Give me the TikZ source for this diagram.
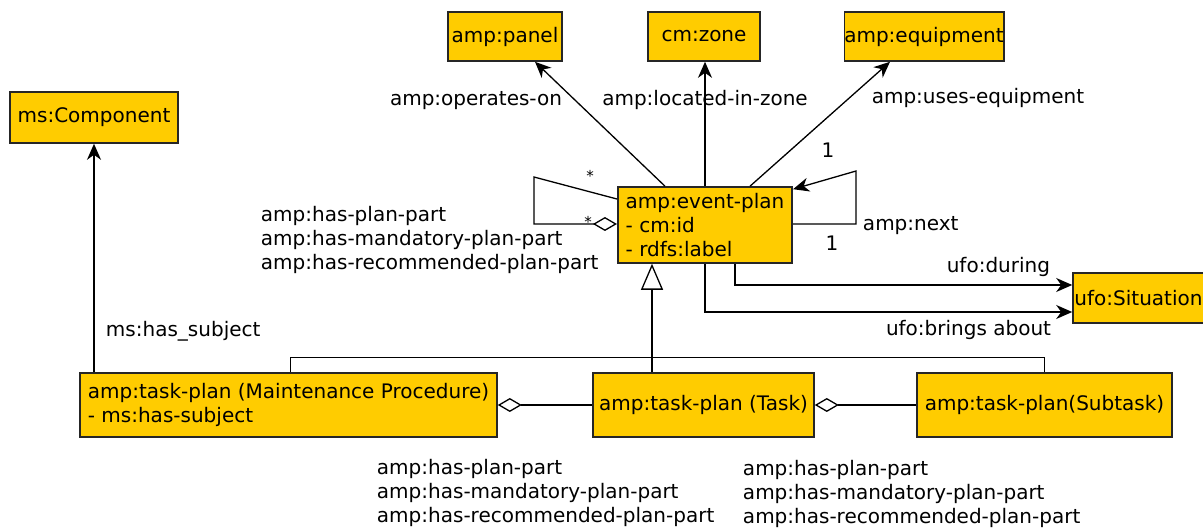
\documentclass[tikz,border=0pt]{standalone}
\usepackage{fontspec}
\setmainfont{DejaVu Sans}
\usetikzlibrary{arrows.meta}
\definecolor{classfill}{HTML}{FFCC00}

\begin{document}
\begin{tikzpicture}[x=1pt, y=-1pt, line width=1.3pt,
		font=\fontsize{20}{24}\selectfont,
		cls/.style={draw=black!85, line width=1.6pt, fill=classfill, inner sep=0pt},
		mult/.style={font=\fontsize{15}{16}\selectfont, inner sep=0pt},
		assoc/.style={-{Stealth[length=16pt, width=14pt, inset=5pt]}},
		agg/.style={{Diamond[open, length=24pt, width=14pt]}-},
		gen/.style={-{Triangle[open, length=26pt, width=22pt]}}]
	\useasboundingbox (0,0) rectangle (1203,529);
	
	%classes
	\node[cls, minimum width=114pt, minimum height=49pt] (panel) at (505,36.5){amp:panel};
	\node[cls, minimum width=112pt, minimum height=49pt] (zone) at (704,36.5){cm:zone};
	\node[cls, minimum width=158pt, minimum height=49pt] (equip) at (924,36.5){amp:equipment};
	\node[cls, minimum width=168pt, minimum height=51pt] (comp) at (94,117.5){ms:Component};
	\node[cls, minimum width=174pt, minimum height=76pt, inner xsep=8pt, align=left] (event) at (705,225)
		{amp:event-plan\\- cm:id\\- rdfs:label};
	\node[cls, minimum width=131pt, minimum height=50pt] (sit) at (1138.5,298){ufo:Situation};
	\node[cls, minimum width=417pt, minimum height=64pt, inner xsep=6pt, align=left] (mp) at (288.5,405)
		{amp:task-plan (Maintenance Procedure)\\- ms:has-subject};
	\node[cls, minimum width=221pt, minimum height=64pt] (task) at (703.5,405){amp:task-plan (Task)};
	\node[cls, minimum width=255pt, minimum height=64pt] (sub) at (1044.5,405){amp:task-plan(Subtask)};
	
	%associations from event-plan
	\draw[assoc] ([xshift=-40pt]event.north) -- ([xshift=30pt]panel.south);
	\draw[assoc] (event.north) -- (event.north |- zone.south);
	\draw[assoc] ([xshift=45pt]event.north) -- ([xshift=-34pt]equip.south);
	\node (lpanel) at (476,101){amp:operates-on};
	\node (lzone) at (705,100){amp:located-in-zone};
	\node (lequip) at (978,98){amp:uses-equipment};
	\node (mequip) at (828,150){1};
	
	%self loops
	\draw[assoc] ([yshift=1pt]event.east) -- ++(63,0) -- ++(0,-53) -- ([yshift=-3pt]event.north east);
	\node[anchor=west] (lnext) at (859,226){amp:next};
	\node (mnext) at (832,243){1};
	\draw[agg] ([yshift=1pt]event.west) -- ++(-83,0) -- ++(0,-47) -- ([yshift=26pt]event.west);
	\node[mult] (mtop) at (590,176){*};
	\node[mult] (mbot) at (588,222){*};
	\node[anchor=west, align=left] (lpart) at (257,240)
		{amp:has-plan-part\\amp:has-mandatory-plan-part\\amp:has-recommended-plan-part};
	
	%situation
	\draw[assoc] ([xshift=30pt]event.south) |- ([yshift=13pt]sit.west);
	\draw[assoc] (event.south) |- ([yshift=-14pt]sit.west);
	\node[anchor=east] (lduring) at (1054,267){ufo:during};
	\node[anchor=east] (lbrings) at (1055,330){ufo:brings about};
	
	%subject
	\draw[assoc] (mp.north -| comp.south) -- (comp.south);
	\node[anchor=west] (lsubject) at (102,331){ms:has\_subject};
	
	%generalization
	\coordinate (gtip) at ([xshift=-53pt]event.south);
	\draw[gen] (gtip |- task.north) -- (gtip);
	\draw[line width=1pt] ([xshift=2pt]mp.north) -- ++(0,-15) -| (sub.north);
	
	%aggregation
	\draw[agg] (mp.east) -- (task.west);
	\draw[agg] (task.east) -- (sub.west);
	\node[anchor=west, align=left] (lpart2) at (373,493)
		{amp:has-plan-part\\amp:has-mandatory-plan-part\\amp:has-recommended-plan-part};
	\node[anchor=west, align=left] (lpart3) at (739,494)
		{amp:has-plan-part\\amp:has-mandatory-plan-part\\amp:has-recommended-plan-part};
\end{tikzpicture}
\end{document}
